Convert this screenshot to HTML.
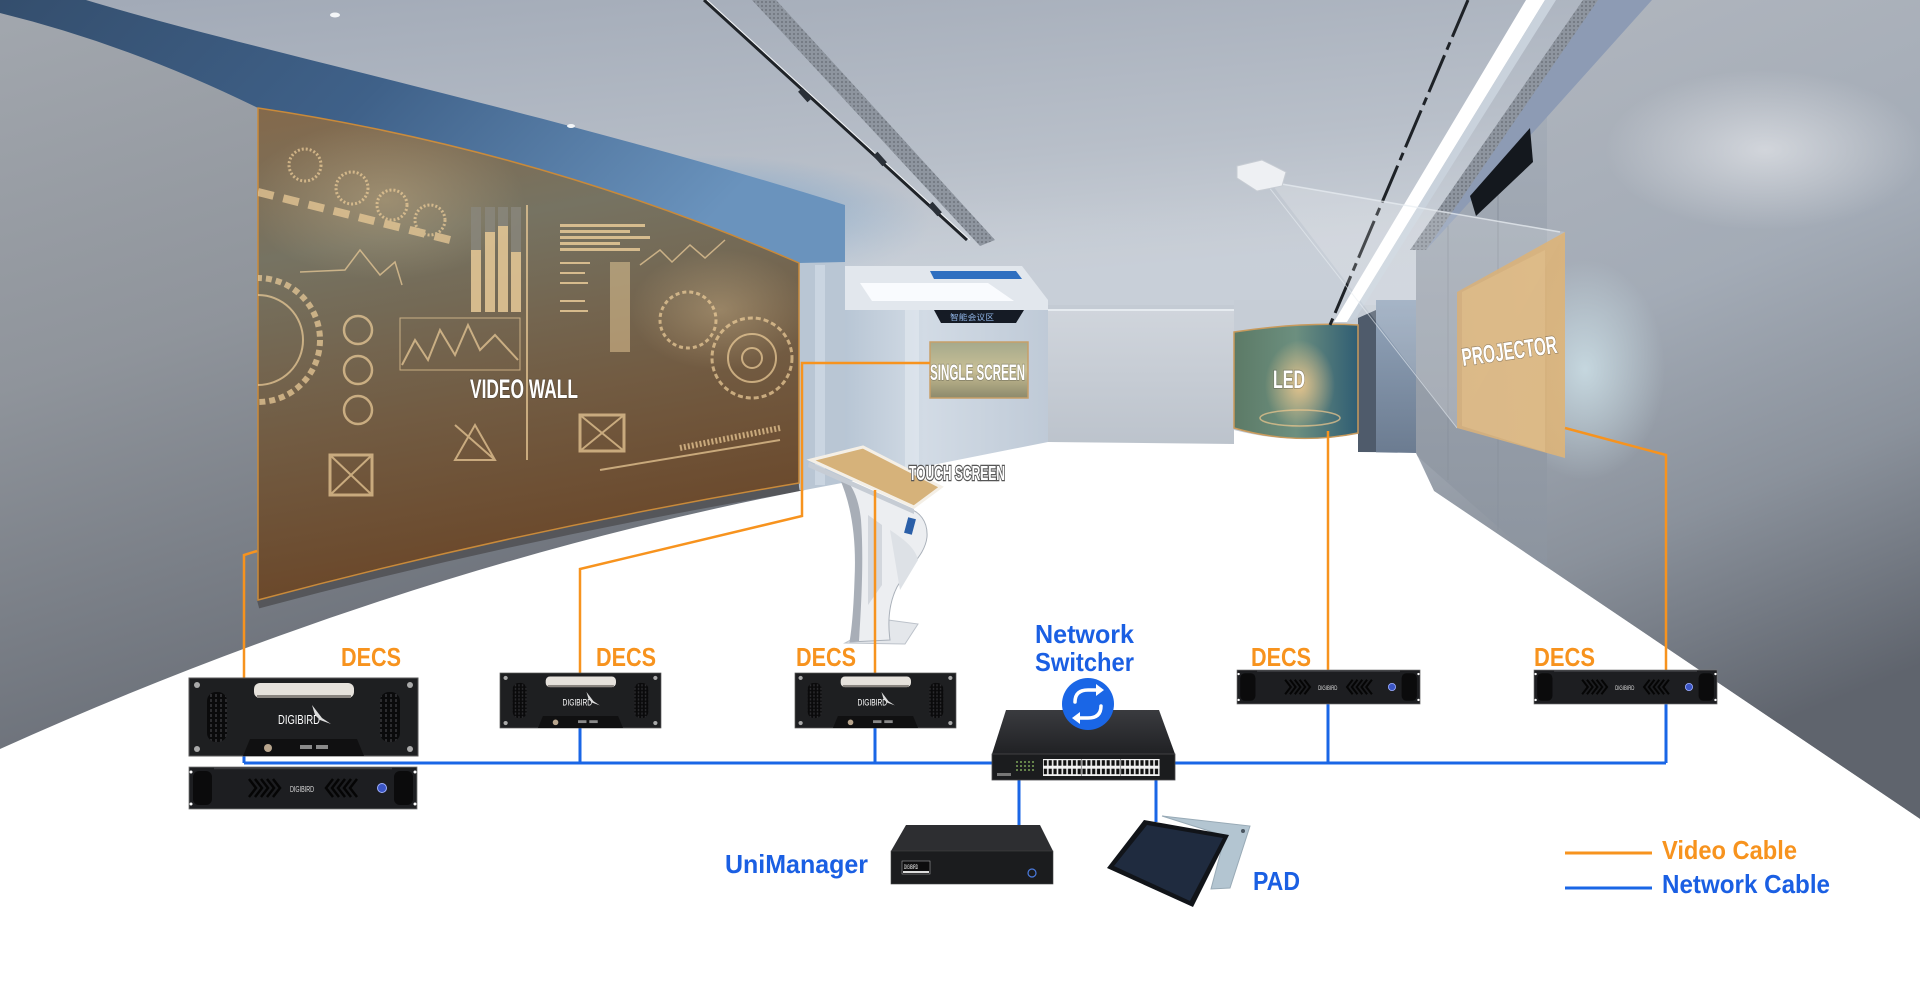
<!DOCTYPE html>
<html>
<head>
<meta charset="utf-8">
<style>
html,body{margin:0;padding:0;background:#fff;}
body{width:1920px;height:982px;overflow:hidden;}
svg{display:block;}
.lb{font-family:"Liberation Sans Narrow","Liberation Sans",sans-serif;font-weight:bold;}
.wl{font-family:"Liberation Sans Narrow","Liberation Sans",sans-serif;font-weight:bold;fill:#fff;paint-order:stroke;stroke:rgba(40,40,40,0.35);stroke-width:1.5px;}
</style>
</head>
<body>
<svg width="1920" height="982" viewBox="0 0 1920 982" xmlns="http://www.w3.org/2000/svg">
<defs>
  <linearGradient id="ceil" x1="0" y1="0" x2="0.3" y2="1">
    <stop offset="0" stop-color="#a1a9b6"/>
    <stop offset="0.4" stop-color="#b8bfc9"/>
    <stop offset="0.6" stop-color="#cad0d8"/>
    <stop offset="1" stop-color="#d3d8df"/>
  </linearGradient>
  <linearGradient id="backceil" x1="0" y1="0" x2="0" y2="1">
    <stop offset="0" stop-color="#c6cdd6" stop-opacity="0"/>
    <stop offset="1" stop-color="#c8cfd8" stop-opacity="1"/>
  </linearGradient>
  <radialGradient id="blueglow" cx="0.5" cy="0.5" r="0.5">
    <stop offset="0" stop-color="#6f9dc8" stop-opacity="0.9"/>
    <stop offset="1" stop-color="#6f9dc8" stop-opacity="0"/>
  </radialGradient>
  <linearGradient id="band" x1="0" y1="0" x2="1" y2="0.3">
    <stop offset="0" stop-color="#344e6d"/>
    <stop offset="0.5" stop-color="#3f6189"/>
    <stop offset="1" stop-color="#6a93bd"/>
  </linearGradient>
  <linearGradient id="lwall" x1="0" y1="0" x2="0.35" y2="1">
    <stop offset="0" stop-color="#a2a7ae"/>
    <stop offset="0.45" stop-color="#8f949b"/>
    <stop offset="1" stop-color="#656a73"/>
  </linearGradient>
  <linearGradient id="rwall" x1="0" y1="0" x2="0.25" y2="1">
    <stop offset="0" stop-color="#b2b7bf"/>
    <stop offset="0.45" stop-color="#a3abb6"/>
    <stop offset="0.72" stop-color="#8a919b"/>
    <stop offset="1" stop-color="#5f646d"/>
  </linearGradient>
  <linearGradient id="pillar" x1="0" y1="0" x2="0" y2="1">
    <stop offset="0" stop-color="#a4acb7"/>
    <stop offset="1" stop-color="#8c949f"/>
  </linearGradient>
  <radialGradient id="whiteglow" cx="0.5" cy="0.5" r="0.5">
    <stop offset="0" stop-color="#e4e6ea" stop-opacity="0.7"/>
    <stop offset="1" stop-color="#e4e6ea" stop-opacity="0"/>
  </radialGradient>
  <radialGradient id="cyanglow" cx="0.5" cy="0.5" r="0.5">
    <stop offset="0" stop-color="#cfe3ea" stop-opacity="0.8"/>
    <stop offset="1" stop-color="#cfe3ea" stop-opacity="0"/>
  </radialGradient>
  <linearGradient id="vw" x1="0" y1="0" x2="0.2" y2="1">
    <stop offset="0" stop-color="#84694b"/>
    <stop offset="0.3" stop-color="#767362"/>
    <stop offset="0.65" stop-color="#725c43"/>
    <stop offset="1" stop-color="#6a4628"/>
  </linearGradient>
  <radialGradient id="tanglow" cx="0.5" cy="0.5" r="0.5">
    <stop offset="0" stop-color="#f0d3a2" stop-opacity="0.3"/>
    <stop offset="1" stop-color="#f0d3a2" stop-opacity="0"/>
  </radialGradient>
  <linearGradient id="led" x1="0" y1="0" x2="1" y2="0">
    <stop offset="0" stop-color="#5c7a66"/>
    <stop offset="0.5" stop-color="#6c8f7f"/>
    <stop offset="1" stop-color="#2f5d73"/>
  </linearGradient>
  <radialGradient id="ledglow" cx="0.5" cy="0.5" r="0.5">
    <stop offset="0" stop-color="#f1c98e" stop-opacity="0.9"/>
    <stop offset="1" stop-color="#f1c98e" stop-opacity="0"/>
  </radialGradient>
  <linearGradient id="proj" x1="0" y1="0" x2="1" y2="0">
    <stop offset="0" stop-color="#d6b07c"/>
    <stop offset="1" stop-color="#dcb47a"/>
  </linearGradient>
  <linearGradient id="ss" x1="0" y1="0" x2="0" y2="1">
    <stop offset="0" stop-color="#a5a98c"/>
    <stop offset="0.5" stop-color="#c8bf95"/>
    <stop offset="1" stop-color="#8d8a6c"/>
  </linearGradient>
  <linearGradient id="corr" x1="0" y1="0" x2="1" y2="0">
    <stop offset="0" stop-color="#b7c5d4"/>
    <stop offset="0.4" stop-color="#d2dbe5"/>
    <stop offset="1" stop-color="#bfcad7"/>
  </linearGradient>
  <linearGradient id="backw" x1="0" y1="0" x2="0" y2="1">
    <stop offset="0" stop-color="#d0d5dc"/>
    <stop offset="1" stop-color="#bcc3cc"/>
  </linearGradient>
  <linearGradient id="bluewall" x1="0" y1="0" x2="0" y2="1">
    <stop offset="0" stop-color="#93a5bb"/>
    <stop offset="1" stop-color="#6b7b90"/>
  </linearGradient>
  <linearGradient id="swtop" x1="0" y1="0" x2="0" y2="1">
    <stop offset="0" stop-color="#3a3b3f"/>
    <stop offset="1" stop-color="#202124"/>
  </linearGradient>
  <pattern id="grill" width="5" height="5" patternUnits="userSpaceOnUse">
    <rect width="5" height="5" fill="#0a0a0b"/>
    <rect x="1" y="1" width="2" height="3" fill="#2c2c2f"/>
  </pattern>
  <pattern id="ports" width="4.83" height="8.5" patternUnits="userSpaceOnUse" x="1043" y="759">
    <rect width="4.83" height="8.5" fill="#f2f2f2"/>
    <rect x="0.8" y="1.2" width="3.2" height="5.5" fill="#111"/>
  </pattern>
  <pattern id="vent" width="4" height="4" patternUnits="userSpaceOnUse">
    <rect width="4" height="4" fill="#8e959f"/>
    <circle cx="2" cy="2" r="0.9" fill="#646a73"/>
  </pattern>
  <clipPath id="vwclip"><path d="M258,108 Q540,150 799,263 L799,483 Q520,530 258,600 Z"/></clipPath>
</defs>

<!-- ceiling -->
<rect x="0" y="0" width="1920" height="560" fill="url(#ceil)"/>
<ellipse cx="700" cy="225" rx="230" ry="70" fill="url(#blueglow)"/>

<!-- back area -->
<rect x="842" y="200" width="578" height="110" fill="url(#backceil)"/>
<polygon points="842,305 1420,305 1420,470 842,495" fill="#c4cbd4"/>
<rect x="842" y="300" width="206" height="190" fill="url(#corr)"/>
<rect x="905" y="300" width="14" height="180" fill="#e0e7ee" opacity="0.7"/>
<polygon points="842,266 1022,266 1048,300 1048,310 842,310" fill="#e2e7ed"/>
<polygon points="930,271 1016,271 1022,279 934,279" fill="#2f6fc0"/>
<polygon points="860,283 988,283 1014,301 872,301" fill="#f9fbfe"/>
<polygon points="934,310 1024,310 1016,323 941,323" fill="#151b25"/>
<text x="950" y="320" font-family="'Noto Sans CJK SC',sans-serif" font-size="8" fill="#8fb4e6" textLength="44" lengthAdjust="spacingAndGlyphs">智能会议区</text>
<rect x="930" y="342" width="98" height="56" fill="url(#ss)" stroke="#c79f68" stroke-width="1.5"/>
<rect x="1048" y="310" width="186" height="135" fill="url(#backw)"/>
<line x1="1048" y1="310" x2="1234" y2="310" stroke="#e6ebf0" stroke-width="2"/>
<rect x="1234" y="300" width="124" height="35" fill="#c6cdd6"/>
<line x1="1236" y1="336" x2="1356" y2="330" stroke="#2a2f36" stroke-width="2" stroke-dasharray="4 14"/>
<polygon points="1358,318 1376,310 1376,452 1358,452" fill="#4f5b6b"/>
<rect x="1376" y="300" width="42" height="155" fill="url(#bluewall)"/>
<!-- LED -->
<path d="M1234,332 Q1300,322 1358,325 L1358,433 Q1296,446 1234,428 Z" fill="url(#led)" stroke="#c99a5c" stroke-width="1.5"/>
<ellipse cx="1300" cy="385" rx="35" ry="45" fill="url(#ledglow)"/>
<ellipse cx="1300" cy="418" rx="40" ry="8" fill="none" stroke="#f1c98e" stroke-width="1.5" opacity="0.7"/>

<!-- left wall -->
<polygon points="0,8 845,258 845,495 0,765" fill="url(#lwall)"/>
<rect x="799" y="255" width="46" height="235" fill="#b9c6d4"/>
<rect x="815" y="265" width="10" height="220" fill="#ced8e3" opacity="0.8"/>
<!-- soffit band -->
<path d="M86,0 C250,50 560,115 845,205 L845,262 L799,263 Q540,150 258,108 Q130,45 0,13 L0,0 Z" fill="url(#band)"/>
<ellipse cx="335" cy="15" rx="5" ry="2.5" fill="#f4f6f8"/>
<ellipse cx="571" cy="126" rx="4" ry="2" fill="#f4f6f8"/>

<!-- video wall -->
<path d="M258,604 Q520,534 799,487" fill="none" stroke="#55565a" stroke-width="9"/>
<path d="M258,108 Q540,150 799,263 L799,483 Q520,530 258,600 Z" fill="url(#vw)" stroke="#c98a3a" stroke-width="1.5"/>
<g clip-path="url(#vwclip)">
  <ellipse cx="385" cy="200" rx="140" ry="80" fill="url(#tanglow)"/>
  <ellipse cx="720" cy="310" rx="90" ry="60" fill="url(#tanglow)"/>
  <g stroke="#efcf9b" fill="none" opacity="0.7">
    <circle cx="305" cy="165" r="16" stroke-width="3" stroke-dasharray="2 2"/>
    <circle cx="352" cy="188" r="16" stroke-width="3" stroke-dasharray="2 2"/>
    <circle cx="392" cy="205" r="15" stroke-width="3" stroke-dasharray="2 2"/>
    <circle cx="430" cy="220" r="15" stroke-width="3" stroke-dasharray="2 2"/>
    <line x1="258" y1="192" x2="450" y2="240" stroke-width="8" stroke-dasharray="16 10"/>
    <polyline points="300,272 345,270 360,250 380,275 395,262 402,285" stroke-width="1.5"/>
    <circle cx="258" cy="340" r="62" stroke-width="6" stroke-dasharray="6 4"/>
    <circle cx="258" cy="340" r="45" stroke-width="2"/>
    <circle cx="358" cy="330" r="14" stroke-width="2.5"/>
    <circle cx="358" cy="370" r="14" stroke-width="2.5"/>
    <circle cx="358" cy="410" r="14" stroke-width="2.5"/>
    <rect x="400" y="318" width="120" height="52" stroke-width="1"/>
    <polyline points="402,365 415,340 428,360 440,330 455,355 468,325 480,350 495,335 518,360" stroke-width="2"/>
    <path d="M527,205 L527,460" stroke-width="2"/>
    <circle cx="688" cy="320" r="28" stroke-width="3" stroke-dasharray="4 3"/>
    <circle cx="752" cy="358" r="40" stroke-width="3" stroke-dasharray="5 3"/>
    <circle cx="752" cy="358" r="24" stroke-width="2"/>
    <circle cx="752" cy="358" r="10" stroke-width="2"/>
    <rect x="330" y="455" width="42" height="40" stroke-width="3"/>
    <path d="M330,455 L372,495 M372,455 L330,495" stroke-width="2"/>
    <rect x="580" y="415" width="44" height="36" stroke-width="3"/>
    <path d="M580,415 L624,451 M624,415 L580,451" stroke-width="2"/>
    <path d="M455,460 L475,425 L495,460 Z M455,425 L495,460" stroke-width="2"/>
    <polyline points="640,265 660,250 672,262 690,245 705,258 725,240" stroke-width="1.5"/>
    <line x1="680" y1="448" x2="780" y2="428" stroke-width="6" stroke-dasharray="2 2"/>
    <line x1="600" y1="470" x2="780" y2="440" stroke-width="2"/>
  </g>
  <g fill="#efd09c" opacity="0.8">
    <rect x="471" y="207" width="10" height="105" fill="#8a877e"/>
    <rect x="485" y="207" width="10" height="105" fill="#8a877e"/>
    <rect x="498" y="207" width="10" height="105" fill="#8a877e"/>
    <rect x="511" y="207" width="10" height="105" fill="#8a877e"/>
    <rect x="471" y="250" width="10" height="62"/>
    <rect x="485" y="232" width="10" height="80"/>
    <rect x="498" y="226" width="10" height="86"/>
    <rect x="511" y="252" width="10" height="60"/>
    <rect x="560" y="224" width="85" height="3"/>
    <rect x="560" y="230" width="70" height="3"/>
    <rect x="560" y="236" width="90" height="3"/>
    <rect x="560" y="242" width="60" height="3"/>
    <rect x="560" y="248" width="80" height="3"/>
    <rect x="610" y="262" width="20" height="90" opacity="0.6"/>
    <rect x="560" y="262" width="30" height="2"/>
    <rect x="560" y="272" width="25" height="2"/>
    <rect x="560" y="282" width="28" height="2"/>
    <rect x="560" y="300" width="25" height="2"/>
    <rect x="560" y="310" width="28" height="2"/>
  </g>
</g>
<text class="wl" x="470" y="398" font-size="27" textLength="108" lengthAdjust="spacingAndGlyphs">VIDEO WALL</text>

<!-- right wall -->
<polygon points="1652,0 1920,0 1920,819 1434,491 1416,452 1416,250 1547,117" fill="url(#rwall)"/>
<ellipse cx="1765" cy="150" rx="160" ry="80" fill="url(#whiteglow)"/>
<ellipse cx="1585" cy="370" rx="80" ry="110" fill="url(#cyanglow)"/>
<polygon points="1416,250 1547,117 1547,570 1416,455" fill="url(#pillar)"/>
<line x1="1448" y1="220" x2="1448" y2="480" stroke="#8a929d" stroke-width="1"/>
<line x1="1498" y1="168" x2="1498" y2="530" stroke="#8a929d" stroke-width="1"/>
<polygon points="1598,0 1652,0 1547,117 1426,250 1416,250" fill="#8d9bb4"/>
<polygon points="1583,0 1598,0 1426,250 1410,250" fill="url(#vent)"/>
<polygon points="1470,196 1530,128 1533,162 1476,216" fill="#14181e"/>
<!-- right ceiling strips -->
<polygon points="1526,0 1545,0 1347,322 1334,322" fill="#ffffff"/>
<polygon points="1545,0 1556,0 1356,318 1347,322" fill="#c9d2dc"/>
<line x1="1468" y1="0" x2="1330" y2="325" stroke="#1e2227" stroke-width="3" stroke-dasharray="40 6 8 6"/>
<!-- left ceiling strips -->
<polygon points="752,0 776,0 995,240 980,246" fill="url(#vent)"/>
<line x1="704" y1="0" x2="967" y2="240" stroke="#1f2328" stroke-width="3"/>
<line x1="707" y1="0" x2="970" y2="240" stroke="#f2f4f6" stroke-width="1"/>
<rect x="802" y="88" width="6" height="14" fill="#2a3038" transform="rotate(-42 805 95)"/>
<rect x="877" y="152" width="6" height="14" fill="#2a3038" transform="rotate(-42 880 159)"/>
<rect x="932" y="202" width="6" height="14" fill="#2a3038" transform="rotate(-42 935 209)"/>

<!-- projector & cone -->
<polygon points="1270,182 1565,232 1457,428" fill="#ffffff" opacity="0.18"/>
<line x1="1270" y1="182" x2="1560" y2="232" stroke="#e9eef3" stroke-width="1.5" opacity="0.7"/>
<line x1="1268" y1="186" x2="1457" y2="428" stroke="#e9eef3" stroke-width="1" opacity="0.6"/>
<polygon points="1237,166 1262,160 1286,172 1282,186 1257,191 1237,178" fill="#eef0f3" stroke="#c7ccd3" stroke-width="1"/>
<polygon points="1457,292 1565,232 1565,458 1457,428" fill="url(#proj)" opacity="0.92"/>
<polygon points="1462,292 1545,250 1545,452 1462,426" fill="#e1c08e" opacity="0.6"/>
<text class="wl" x="1463" y="366" font-size="25" textLength="96" lengthAdjust="spacingAndGlyphs" transform="rotate(-8 1463 366)">PROJECTOR</text>

<!-- floor -->
<path d="M0,749 Q420,560 842,483 L1048,442 L1234,444 L1234,430 Q1296,446 1358,434 L1358,452 L1416,453 L1434,491 L1920,819 L1920,982 L0,982 Z" fill="#ffffff"/>

<!-- touch kiosk -->
<polygon points="845,643 905,644 918,624 888,620" fill="#e4e7eb" stroke="#bcc2ca" stroke-width="1"/>
<path d="M840,478 C852,505 857,540 855,580 C854,610 852,630 850,642 L890,640 C888,625 888,605 897,587 C910,565 925,555 927,537 C928,522 920,510 905,508 Z" fill="#eceef1" stroke="#aab1ba" stroke-width="1"/>
<path d="M840,478 C852,505 857,540 855,580 C854,610 852,630 850,642 L859,641 C861,610 864,560 861,520 C859,500 853,488 848,482 Z" fill="#a8aeb7"/>
<path d="M868,515 L882,525 L882,585 L868,605 Z" fill="#d3d7dd"/>
<path d="M890,530 C905,540 915,548 918,560 L900,590 Z" fill="#dde1e6"/>
<rect x="906" y="518" width="8" height="16" fill="#2b5fa8" transform="rotate(15 910 526)"/>
<polygon points="809,462 914,509 914,514 808,467" fill="#c6ccd4"/>
<polygon points="811,460 863,447 941,487 914,507" fill="#d6b27a" stroke="#f4efe6" stroke-width="3"/>
<text class="wl" x="909" y="480" font-size="20" textLength="96" lengthAdjust="spacingAndGlyphs" style="stroke:#555;stroke-width:2.5px;">TOUCH SCREEN</text>

<!-- screen labels -->
<text class="wl" x="930" y="380" font-size="22" textLength="95" lengthAdjust="spacingAndGlyphs">SINGLE SCREEN</text>
<text class="wl" x="1273" y="388" font-size="25" textLength="32" lengthAdjust="spacingAndGlyphs">LED</text>

<!-- orange video cables -->
<g fill="none" stroke="#f7931e" stroke-width="2.5">
  <polyline points="244,678 244,555 257,551"/>
  <polyline points="580,673 580,569 802,516 802,363 930,363"/>
  <polyline points="875,673 875,490"/>
  <polyline points="1328,670 1328,431"/>
  <polyline points="1666,670 1666,455 1565,428"/>
</g>

<!-- blue network cables -->
<g fill="none" stroke="#1a66e6" stroke-width="3">
  <line x1="244" y1="763" x2="1666" y2="763"/>
  <line x1="244" y1="754" x2="244" y2="763"/>
  <line x1="580" y1="726" x2="580" y2="763"/>
  <line x1="875" y1="726" x2="875" y2="763"/>
  <line x1="1328" y1="702" x2="1328" y2="763"/>
  <line x1="1666" y1="702" x2="1666" y2="763"/>
  <line x1="1019" y1="778" x2="1019" y2="826"/>
  <line x1="1156" y1="778" x2="1156" y2="822"/>
</g>

<!-- DECS 4U boxes -->
<g transform="translate(189,678)">
  <rect x="0" y="0" width="229" height="78" fill="#1e1f21" stroke="#5a5a5a" stroke-width="1"/>
  <rect x="65" y="5" width="100" height="15" rx="6" fill="#e6e2dc"/>
  <rect x="68" y="17" width="94" height="3" fill="#8a8580"/>
  <rect x="18" y="14" width="20" height="50" rx="9" fill="url(#grill)"/>
  <rect x="191" y="14" width="20" height="50" rx="9" fill="url(#grill)"/>
  <text x="89" y="46" font-family="'Liberation Sans',sans-serif" font-size="13" fill="#ffffff" textLength="42" lengthAdjust="spacingAndGlyphs">DIGIBIRD</text>
  <path d="M123,27 L133,40 L142,46 L131,42 L126,37 Z" fill="#dddddd"/>
  <polygon points="61,61 168,61 175,78 54,78" fill="#101011"/>
  <circle cx="79" cy="70" r="4" fill="#b8a58d"/>
  <rect x="111" y="67" width="12" height="4" fill="#8a8a8a"/>
  <rect x="127" y="67" width="12" height="4" fill="#8a8a8a"/>
  <circle cx="8" cy="7" r="3" fill="#a9a9a9"/><circle cx="221" cy="7" r="3" fill="#a9a9a9"/>
  <circle cx="8" cy="71" r="3" fill="#a9a9a9"/><circle cx="221" cy="71" r="3" fill="#a9a9a9"/>
</g>
<g transform="translate(500,673) scale(0.703,0.705)">
  <rect x="0" y="0" width="229" height="78" fill="#1e1f21" stroke="#5a5a5a" stroke-width="1"/>
  <rect x="65" y="5" width="100" height="15" rx="6" fill="#e6e2dc"/>
  <rect x="68" y="17" width="94" height="3" fill="#8a8580"/>
  <rect x="18" y="14" width="20" height="50" rx="9" fill="url(#grill)"/>
  <rect x="191" y="14" width="20" height="50" rx="9" fill="url(#grill)"/>
  <text x="89" y="46" font-family="'Liberation Sans',sans-serif" font-size="13" fill="#ffffff" textLength="42" lengthAdjust="spacingAndGlyphs">DIGIBIRD</text>
  <path d="M123,27 L133,40 L142,46 L131,42 L126,37 Z" fill="#dddddd"/>
  <polygon points="61,61 168,61 175,78 54,78" fill="#101011"/>
  <circle cx="79" cy="70" r="4" fill="#b8a58d"/>
  <rect x="111" y="67" width="12" height="4" fill="#8a8a8a"/>
  <rect x="127" y="67" width="12" height="4" fill="#8a8a8a"/>
  <circle cx="8" cy="7" r="3" fill="#a9a9a9"/><circle cx="221" cy="7" r="3" fill="#a9a9a9"/>
  <circle cx="8" cy="71" r="3" fill="#a9a9a9"/><circle cx="221" cy="71" r="3" fill="#a9a9a9"/>
</g>
<g transform="translate(795,673) scale(0.703,0.705)">
  <rect x="0" y="0" width="229" height="78" fill="#1e1f21" stroke="#5a5a5a" stroke-width="1"/>
  <rect x="65" y="5" width="100" height="15" rx="6" fill="#e6e2dc"/>
  <rect x="68" y="17" width="94" height="3" fill="#8a8580"/>
  <rect x="18" y="14" width="20" height="50" rx="9" fill="url(#grill)"/>
  <rect x="191" y="14" width="20" height="50" rx="9" fill="url(#grill)"/>
  <text x="89" y="46" font-family="'Liberation Sans',sans-serif" font-size="13" fill="#ffffff" textLength="42" lengthAdjust="spacingAndGlyphs">DIGIBIRD</text>
  <path d="M123,27 L133,40 L142,46 L131,42 L126,37 Z" fill="#dddddd"/>
  <polygon points="61,61 168,61 175,78 54,78" fill="#101011"/>
  <circle cx="79" cy="70" r="4" fill="#b8a58d"/>
  <rect x="111" y="67" width="12" height="4" fill="#8a8a8a"/>
  <rect x="127" y="67" width="12" height="4" fill="#8a8a8a"/>
  <circle cx="8" cy="7" r="3" fill="#a9a9a9"/><circle cx="221" cy="7" r="3" fill="#a9a9a9"/>
  <circle cx="8" cy="71" r="3" fill="#a9a9a9"/><circle cx="221" cy="71" r="3" fill="#a9a9a9"/>
</g>

<!-- rack units -->
<g transform="translate(189,767)">
  <rect x="0" y="0" width="228" height="42" fill="#1d1e21" stroke="#777" stroke-width="0.8"/>
  <line x1="25" y1="1.5" x2="203" y2="1.5" stroke="#3a3b3f" stroke-width="1.5"/>
  <rect x="4" y="4" width="19" height="34" rx="6" fill="#0b0b0c"/>
  <rect x="205" y="4" width="19" height="34" rx="6" fill="#0b0b0c"/>
  <circle cx="2" cy="5" r="1.5" fill="#fff"/><circle cx="2" cy="37" r="1.5" fill="#fff"/>
  <circle cx="226" cy="5" r="1.5" fill="#fff"/><circle cx="226" cy="37" r="1.5" fill="#fff"/>
  <g fill="none" stroke="#050505" stroke-width="2.5">
    <polyline points="60,12 67,21 60,30"/><polyline points="66,12 73,21 66,30"/><polyline points="72,12 79,21 72,30"/><polyline points="78,12 85,21 78,30"/><polyline points="84,12 91,21 84,30"/>
    <polyline points="168,12 161,21 168,30"/><polyline points="162,12 155,21 162,30"/><polyline points="156,12 149,21 156,30"/><polyline points="150,12 143,21 150,30"/><polyline points="144,12 137,21 144,30"/>
  </g>
  <text x="101" y="25" font-family="'Liberation Sans',sans-serif" font-size="8" fill="#dddddd" textLength="24" lengthAdjust="spacingAndGlyphs">DIGIBIRD</text>
  <circle cx="193" cy="21" r="4.5" fill="#3b55c4" stroke="#9fb0ff" stroke-width="1"/>
</g>
<g transform="translate(1237,670) scale(0.803,0.81)">
  <rect x="0" y="0" width="228" height="42" fill="#1d1e21" stroke="#777" stroke-width="0.8"/>
  <line x1="25" y1="1.5" x2="203" y2="1.5" stroke="#3a3b3f" stroke-width="1.5"/>
  <rect x="4" y="4" width="19" height="34" rx="6" fill="#0b0b0c"/>
  <rect x="205" y="4" width="19" height="34" rx="6" fill="#0b0b0c"/>
  <circle cx="2" cy="5" r="1.5" fill="#fff"/><circle cx="2" cy="37" r="1.5" fill="#fff"/>
  <circle cx="226" cy="5" r="1.5" fill="#fff"/><circle cx="226" cy="37" r="1.5" fill="#fff"/>
  <g fill="none" stroke="#050505" stroke-width="2.5">
    <polyline points="60,12 67,21 60,30"/><polyline points="66,12 73,21 66,30"/><polyline points="72,12 79,21 72,30"/><polyline points="78,12 85,21 78,30"/><polyline points="84,12 91,21 84,30"/>
    <polyline points="168,12 161,21 168,30"/><polyline points="162,12 155,21 162,30"/><polyline points="156,12 149,21 156,30"/><polyline points="150,12 143,21 150,30"/><polyline points="144,12 137,21 144,30"/>
  </g>
  <text x="101" y="25" font-family="'Liberation Sans',sans-serif" font-size="8" fill="#dddddd" textLength="24" lengthAdjust="spacingAndGlyphs">DIGIBIRD</text>
  <circle cx="193" cy="21" r="4.5" fill="#3b55c4" stroke="#9fb0ff" stroke-width="1"/>
</g>
<g transform="translate(1534,670) scale(0.803,0.81)">
  <rect x="0" y="0" width="228" height="42" fill="#1d1e21" stroke="#777" stroke-width="0.8"/>
  <line x1="25" y1="1.5" x2="203" y2="1.5" stroke="#3a3b3f" stroke-width="1.5"/>
  <rect x="4" y="4" width="19" height="34" rx="6" fill="#0b0b0c"/>
  <rect x="205" y="4" width="19" height="34" rx="6" fill="#0b0b0c"/>
  <circle cx="2" cy="5" r="1.5" fill="#fff"/><circle cx="2" cy="37" r="1.5" fill="#fff"/>
  <circle cx="226" cy="5" r="1.5" fill="#fff"/><circle cx="226" cy="37" r="1.5" fill="#fff"/>
  <g fill="none" stroke="#050505" stroke-width="2.5">
    <polyline points="60,12 67,21 60,30"/><polyline points="66,12 73,21 66,30"/><polyline points="72,12 79,21 72,30"/><polyline points="78,12 85,21 78,30"/><polyline points="84,12 91,21 84,30"/>
    <polyline points="168,12 161,21 168,30"/><polyline points="162,12 155,21 162,30"/><polyline points="156,12 149,21 156,30"/><polyline points="150,12 143,21 150,30"/><polyline points="144,12 137,21 144,30"/>
  </g>
  <text x="101" y="25" font-family="'Liberation Sans',sans-serif" font-size="8" fill="#dddddd" textLength="24" lengthAdjust="spacingAndGlyphs">DIGIBIRD</text>
  <circle cx="193" cy="21" r="4.5" fill="#3b55c4" stroke="#9fb0ff" stroke-width="1"/>
</g>

<!-- network switch -->
<polygon points="1006,710 1159,710 1175,754 992,754" fill="url(#swtop)"/>
<rect x="992" y="754" width="183" height="26" fill="#1b1c1e" stroke="#4a4a4d" stroke-width="0.8"/>
<rect x="1043" y="759" width="38.6" height="17" fill="url(#ports)"/>
<rect x="1082" y="759" width="38.6" height="17" fill="url(#ports)"/>
<rect x="1121" y="759" width="38.6" height="17" fill="url(#ports)"/>
<g fill="#9acb6a">
  <circle cx="1017" cy="762" r="0.9"/><circle cx="1021" cy="762" r="0.9"/><circle cx="1025" cy="762" r="0.9"/><circle cx="1029" cy="762" r="0.9"/><circle cx="1033" cy="762" r="0.9"/>
  <circle cx="1017" cy="766" r="0.9"/><circle cx="1021" cy="766" r="0.9"/><circle cx="1025" cy="766" r="0.9"/><circle cx="1029" cy="766" r="0.9"/><circle cx="1033" cy="766" r="0.9"/>
  <circle cx="1017" cy="770" r="0.9"/><circle cx="1021" cy="770" r="0.9"/><circle cx="1025" cy="770" r="0.9"/><circle cx="1029" cy="770" r="0.9"/><circle cx="1033" cy="770" r="0.9"/>
</g>
<rect x="997" y="773" width="14" height="3" fill="#777"/>
<circle cx="1088" cy="704" r="26" fill="#1a66e6"/>
<g fill="none" stroke="#ffffff" stroke-width="3.5" stroke-linecap="round">
  <path d="M1075,702 Q1075,690 1088,690 L1099,690"/>
  <path d="M1101,706 Q1101,718 1088,718 L1077,718"/>
</g>
<polygon points="1096,684 1104,690 1096,696" fill="#fff"/>
<polygon points="1080,712 1072,718 1080,724" fill="#fff"/>

<!-- UniManager -->
<polygon points="906,825 1040,825 1053,851 891,851" fill="#2d2e31"/>
<rect x="891" y="851" width="162" height="33" fill="#1b1c1e" stroke="#444" stroke-width="0.6"/>
<rect x="902" y="861" width="28" height="13" fill="#0d0d0e" stroke="#bbb" stroke-width="0.5"/>
<text x="904" y="869" font-family="'Liberation Sans',sans-serif" font-size="6" fill="#fff" textLength="14" lengthAdjust="spacingAndGlyphs">DIGIBIRD</text>
<rect x="903" y="871" width="26" height="2" fill="#ddd"/>
<circle cx="1032" cy="873" r="4" fill="none" stroke="#4b7be0" stroke-width="1.2"/>

<!-- PAD -->
<polygon points="1162,816 1250,826 1230,888 1211,889 1225,836" fill="#b3c5d1" stroke="#98aab6" stroke-width="1"/>
<circle cx="1243" cy="831" r="2" fill="#4a5560"/>
<polygon points="1144,820 1229,835 1193,907 1107,868" fill="#111419"/>
<polygon points="1147,825 1223,838 1190,901 1114,866" fill="#1f2b3f"/>

<!-- colored labels -->
<g class="lb" font-size="26">
  <text x="341" y="666" fill="#f7931e" textLength="60" lengthAdjust="spacingAndGlyphs">DECS</text>
  <text x="596" y="666" fill="#f7931e" textLength="60" lengthAdjust="spacingAndGlyphs">DECS</text>
  <text x="796" y="666" fill="#f7931e" textLength="60" lengthAdjust="spacingAndGlyphs">DECS</text>
  <text x="1251" y="666" fill="#f7931e" textLength="60" lengthAdjust="spacingAndGlyphs">DECS</text>
  <text x="1534" y="666" fill="#f7931e" textLength="61" lengthAdjust="spacingAndGlyphs">DECS</text>
  <text x="1035" y="643" fill="#1a5fe3" textLength="99" lengthAdjust="spacingAndGlyphs">Network</text>
  <text x="1035" y="671" fill="#1a5fe3" textLength="99" lengthAdjust="spacingAndGlyphs">Switcher</text>
  <text x="725" y="873" fill="#1a5fe3" textLength="143" lengthAdjust="spacingAndGlyphs">UniManager</text>
  <text x="1253" y="890" fill="#1a5fe3" textLength="47" lengthAdjust="spacingAndGlyphs">PAD</text>
  <text x="1662" y="859" fill="#f7931e" textLength="135" lengthAdjust="spacingAndGlyphs">Video Cable</text>
  <text x="1662" y="893" fill="#1a5fe3" textLength="168" lengthAdjust="spacingAndGlyphs">Network Cable</text>
</g>
<!-- legend lines -->
<line x1="1565" y1="853" x2="1652" y2="853" stroke="#f7931e" stroke-width="3"/>
<line x1="1565" y1="888" x2="1652" y2="888" stroke="#1a66e6" stroke-width="3"/>
</svg>
</body>
</html>
